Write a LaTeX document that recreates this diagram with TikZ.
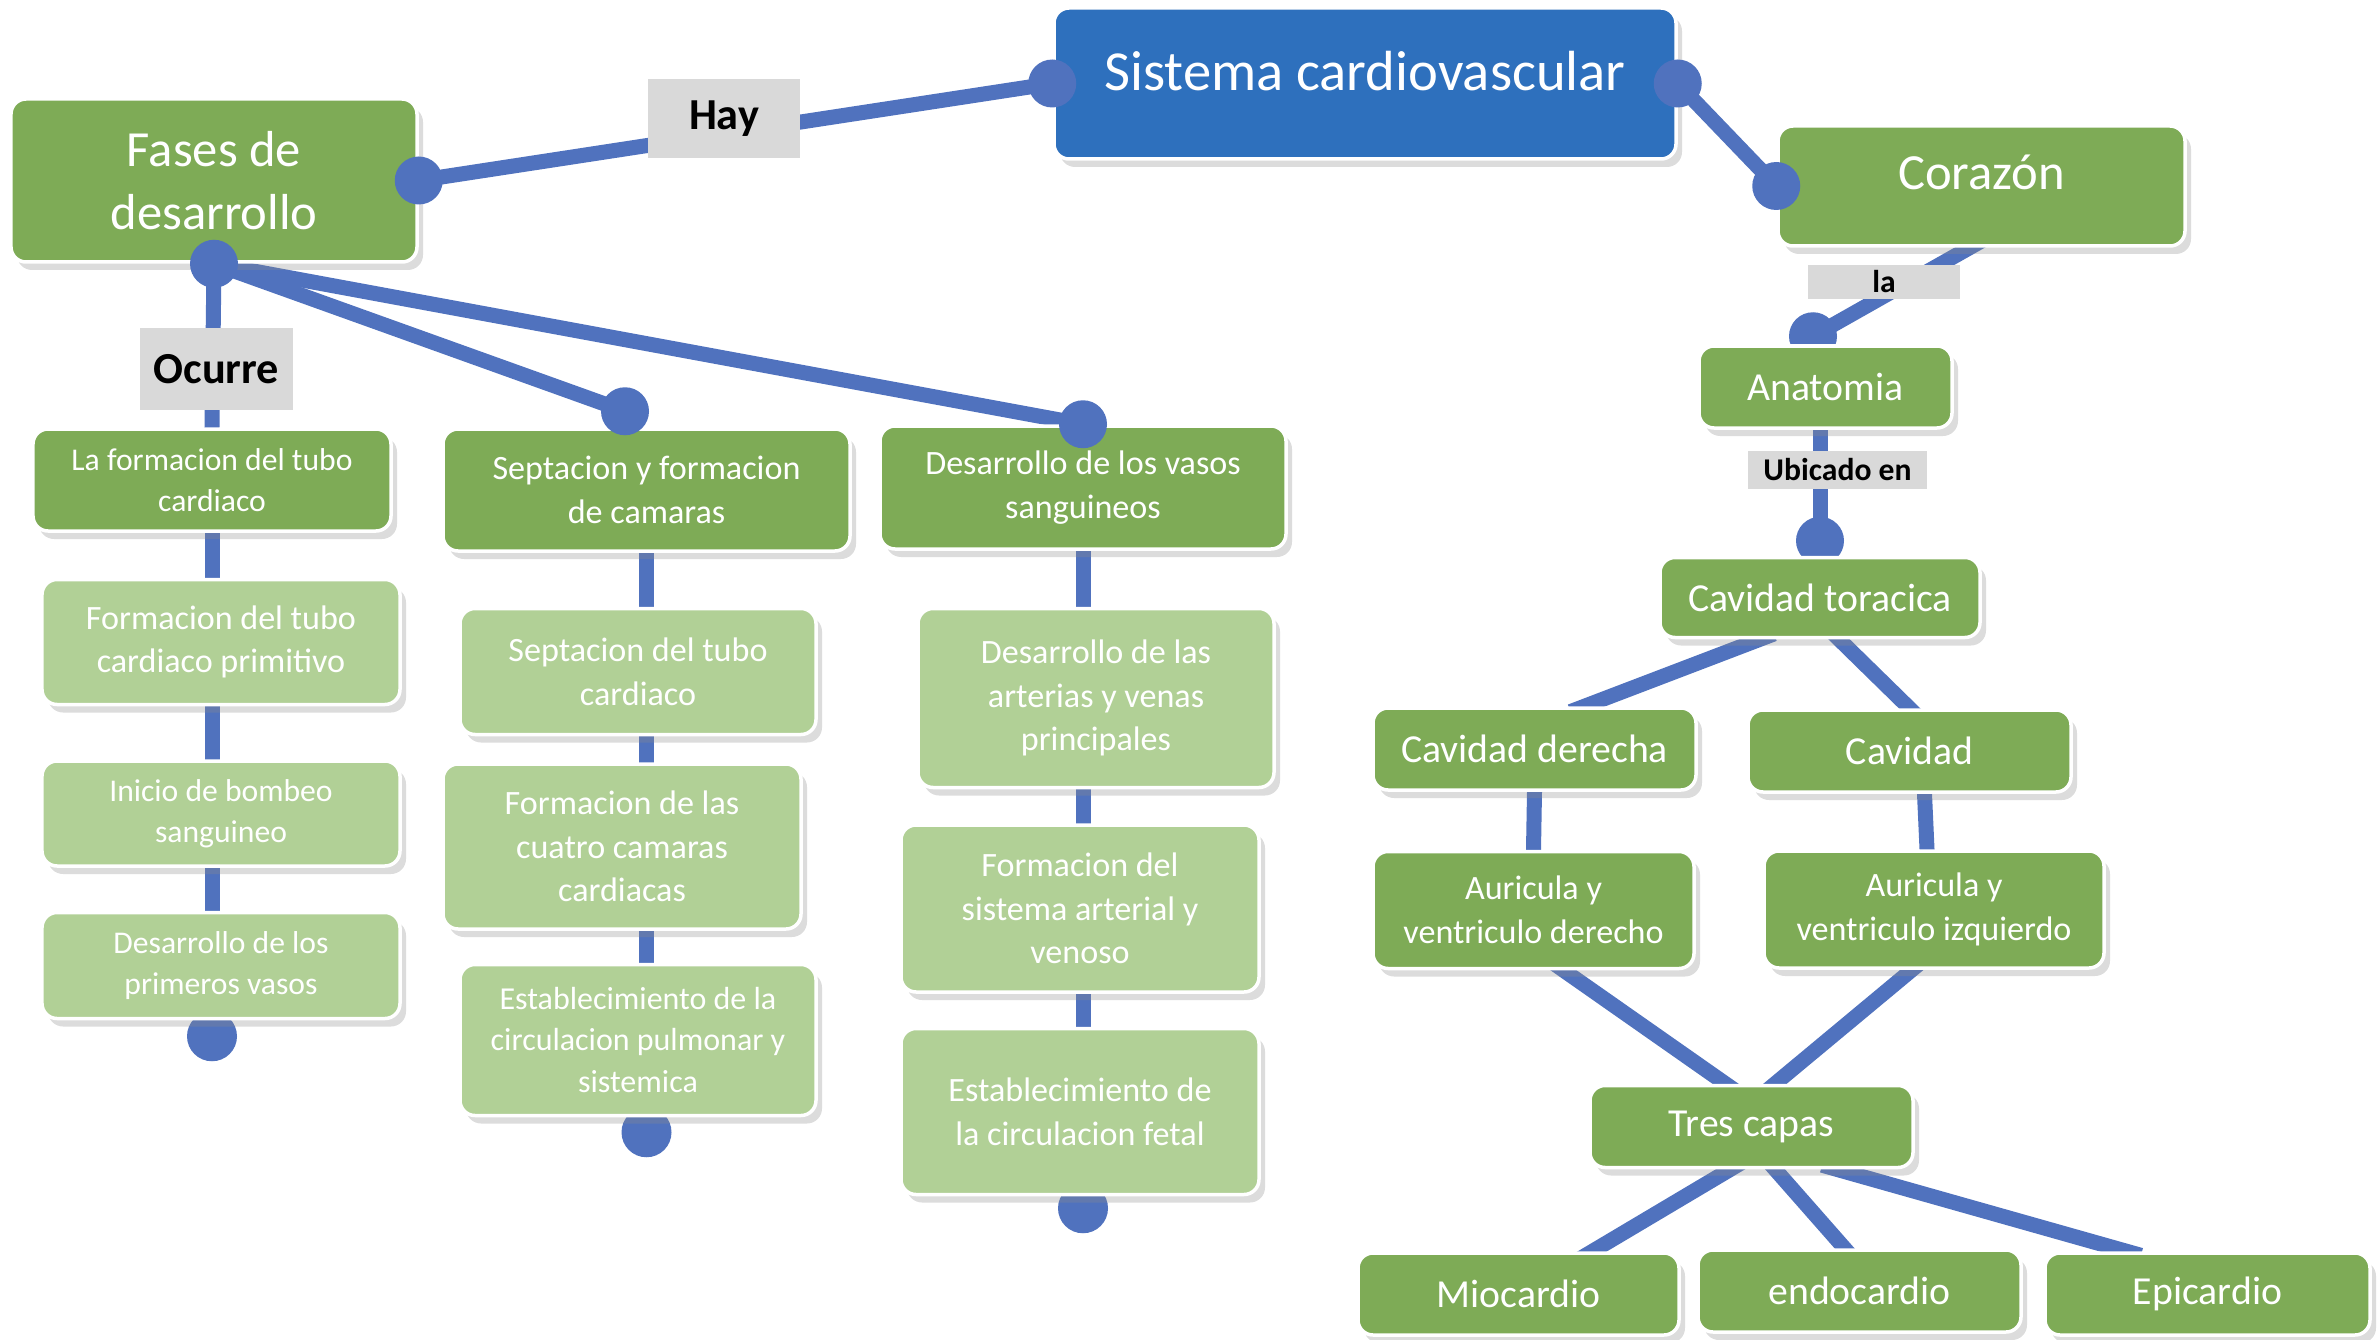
\documentclass[tikz,border=0pt]{standalone}
\usepackage{fontspec}
\setmainfont{Carlito}
\usepackage{tikz}
\usetikzlibrary{positioning,backgrounds,calc,shadows}

\definecolor{azulraiz}{RGB}{46,112,189}
\definecolor{azullinea}{RGB}{80,114,190}
\definecolor{verdeosc}{RGB}{126,171,86}
\definecolor{verdeclaro}{RGB}{177,208,150}
\definecolor{grisetiq}{RGB}{217,217,217}

\newcommand{\tamraiz}{\fontsize{16.1}{19.3}\selectfont}
\newcommand{\tamfase}{\fontsize{14.4}{18.1}\selectfont}
\newcommand{\tamnivel}{\fontsize{11.3}{13.6}\selectfont}
\newcommand{\tamcol}{\fontsize{9.7}{12.4}\selectfont}
\newcommand{\tamcolmedio}{\fontsize{9.1}{11.8}\selectfont}
\newcommand{\tamcolchico}{\fontsize{9}{11.6}\selectfont}
\newcommand{\tametiq}{\fontsize{12.6}{15}\selectfont\bfseries}
\newcommand{\tametiqchica}{\fontsize{9}{11}\selectfont\bfseries}

\tikzset{
  caja/.style={rectangle, rounded corners=1.5mm, draw=white, line width=0.35mm,
    text=white, align=center, inner sep=1mm,
    drop shadow={shadow xshift=0.6mm, shadow yshift=-0.8mm, opacity=0.3, fill=black!45}},
  raiz/.style={caja, fill=azulraiz, font=\tamraiz},
  fase/.style={caja, fill=verdeosc, font=\tamnivel},
  paso/.style={caja, fill=verdeclaro, font=\tamcol, minimum width=35.8mm},
  etiq/.style={rectangle, fill=grisetiq, text=black, font=\tametiq, inner sep=0.5mm},
  etiqchica/.style={etiq, font=\tametiqchica},
  conector/.style={draw=azullinea, line width=1.5mm, shorten <=-1.5mm, shorten >=-1.5mm},
  punto/.style={fill=azullinea},
}

\begin{document}
\begin{tikzpicture}[x=1mm, y=1mm,
    cabeza/.style={fase, font=\tamcol, minimum width=40.6mm},
    nivel/.style={fase, minimum width=32.3mm, minimum height=8.2mm},
  ]
  \useasboundingbox (0,0) rectangle (237.9,-134);
  % concepto central
  \node[raiz, minimum width=62.2mm, minimum height=15.1mm, text height=4mm, text depth=2.5mm]
    (sistema) at (136.5,-8.35) {Sistema cardiovascular};
  \node[fase, font=\tamfase, minimum width=40.6mm, minimum height=16.3mm]
    (fases) at (21.4,-18.05) {Fases de\\desarrollo};
  \node[fase, font=\tamfase, minimum width=40.7mm, minimum height=12mm, text height=4mm, text depth=3.2mm]
    (corazon) at (198.15,-18.6) {Corazón};
  % primera columna
  \node[fase, font=\tamcolchico, minimum width=35.8mm, minimum height=10.2mm]
    (tubo) at (21.2,-48) {La formacion del tubo\\cardiaco};
  \node[paso, below=4.5mm of tubo, xshift=0.9mm, minimum height=12.5mm] (primitivo) {Formacion del tubo\\cardiaco primitivo};
  \node[paso, font=\tamcolchico, below=5.3mm of primitivo, minimum height=10.5mm] (bombeo) {Inicio de bombeo\\sanguineo};
  \node[paso, font=\tamcolchico, below=4.3mm of bombeo, minimum height=10.6mm] (primvasos) {Desarrollo de los\\primeros vasos};
  % segunda columna
  \node[cabeza, minimum width=40.7mm, minimum height=12.2mm]
    (septacion) at (64.65,-49) {Septacion y formacion\\de camaras};
  \node[paso, below=5.4mm of septacion, xshift=-0.85mm, minimum width=35.6mm, minimum height=12.6mm] (septubo) {Septacion del tubo\\cardiaco};
  \node[paso, below=2.6mm of septubo, xshift=-1.6mm, minimum height=16.5mm] (camaras) {Formacion de las\\cuatro camaras\\cardiacas};
  \node[paso, font=\tamcolmedio, below=3.2mm of camaras, xshift=1.6mm, minimum width=35.6mm, minimum height=15.1mm] (pulmonar) {Establecimiento de la\\circulacion pulmonar y\\sistemica};
  % tercera columna
  \node[cabeza, minimum height=12.3mm]
    (vasos) at (108.3,-48.75) {Desarrollo de los vasos\\sanguineos};
  \node[paso, below=5.6mm of vasos, xshift=1.3mm, minimum width=35.6mm, minimum height=17.9mm] (arterias) {Desarrollo de las\\arterias y venas\\principales};
  \node[paso, below=3.4mm of arterias, xshift=-1.6mm, minimum height=16.7mm] (sisarterial) {Formacion del\\sistema arterial y\\venoso};
  \node[paso, below=3.3mm of sisarterial, minimum height=16.6mm] (fetal) {Establecimiento de\\la circulacion fetal};
  % lado del corazon
  \node[fase, minimum width=25.3mm, minimum height=8.2mm] (anatomia) at (182.55,-38.7) {Anatomia};
  \node[fase, below=12.6mm of anatomia, xshift=-0.55mm, minimum width=32mm, minimum height=8mm] (toracica) {Cavidad toracica};
  \node[nivel] (derecha) at (153.45,-74.9) {Cavidad derecha};
  \node[nivel] (cavidad) at (190.95,-75.1) {Cavidad};
  \node[fase, font=\tamcol, below=5.8mm of derecha, xshift=-0.1mm, minimum width=32.1mm, minimum height=11.7mm] (auricder) {Auricula y\\ventriculo derecho};
  \node[fase, font=\tamcol, minimum width=34mm, minimum height=11.7mm] (auricizq) at (193.4,-90.95) {Auricula y\\ventriculo izquierdo};
  \node[nivel] (capas) at (175.15,-112.65) {Tres capas};
  \node[nivel, minimum width=32.1mm] (mio) at (151.85,-129.4) {Miocardio};
  \node[nivel] (endo) at (185.95,-129.1) {endocardio};
  \node[nivel, minimum width=32.5mm] (epi) at (220.75,-129.4) {Epicardio};
  % etiquetas de enlace
  \node[etiq, minimum width=15.2mm, minimum height=7.9mm] (hay) at (72.4,-11.85) {Hay};
  \node[etiq, minimum width=15.3mm, minimum height=8.2mm] (ocurre) at (21.65,-36.9) {Ocurre};
  \node[etiqchica, minimum width=15.2mm, minimum height=3.4mm] (la) at (188.4,-28.2) {la};
  \node[etiqchica, minimum width=17.9mm, minimum height=3.8mm] (ubicado) at (183.75,-47) {Ubicado en};
  % puntos de llegada
  \coordinate (pseptacion) at ($(septacion.north)+(-2.15,1.6)$);
  \coordinate (fin1) at ($(tubo.south |- primvasos.south)+(0,-1.6)$);
  \coordinate (fin2) at ($(septacion.south |- pulmonar.south)+(0,-1.5)$);
  \coordinate (fin3) at ($(vasos.south |- fetal.south)+(0,-1.2)$);
  \coordinate (panatomia) at ($(anatomia.north)+(-1.25,0.8)$);
  \coordinate (ptoracica) at ($(toracica.north)+(0,1.5)$);
  % conectores
  \begin{scope}[on background layer]
    \draw[conector] (fases.east) -- (sistema.west);
    \draw[conector] (sistema.east) -- (corazon.west);
    \draw[conector] (fases.south) -- (tubo.north);
    \draw[conector] (fases.south) -- (pseptacion);
    \draw[conector] (fases.south) -- (vasos.north);
    \draw[conector] (tubo.south) -- (fin1);
    \draw[conector] (septacion.south) -- (fin2);
    \draw[conector] (vasos.south) -- (fin3);
    \fill[punto] (fin1) circle[radius=2.5mm];
    \fill[punto] (fin2) circle[radius=2.5mm];
    \fill[punto] (fin3) circle[radius=2.5mm];
    \draw[conector] ($(corazon.south)+(-1.2,0)$) -- (panatomia);
    \draw[conector] (toracica.north |- anatomia.south) -- (ptoracica);
    \fill[punto] (panatomia) circle[radius=2.4mm];
    \fill[punto] (ptoracica) circle[radius=2.4mm];
    \draw[conector] ($(toracica.south)+(-6,0)$) -- ($(derecha.north)+(5,0)$);
    \draw[conector] ($(toracica.south)+(1.9,0)$) -- (cavidad.north);
    \draw[conector] (derecha.south) -- (auricder.north);
    \draw[conector] ($(cavidad.south)+(1.5,0)$) -- ($(auricizq.north)+(-0.7,0)$);
    \draw[conector] ($(auricder.south)+(3,0)$) -- ($(capas.north)+(-2.6,0)$);
    \draw[conector] ($(auricizq.south)+(-2.2,0)$) -- ($(capas.north)+(2.35,0)$);
    \draw[conector] ($(capas.south)+(-2.1,0)$) -- ($(mio.north)+(7.4,0)$);
    \draw[conector] ($(capas.south)+(2.35,0)$) -- ($(endo.north)+(-1.5,0)$);
    \draw[conector] ($(capas.south)+(8.5,0)$) -- ($(epi.north)+(-8.1,0)$);
  \end{scope}
  % puntos encima de las cajas
  \fill[punto] (fases.east) circle[radius=2.4mm];
  \fill[punto] (sistema.west) circle[radius=2.4mm];
  \fill[punto] (sistema.east) circle[radius=2.4mm];
  \fill[punto] (corazon.west) circle[radius=2.4mm];
  \fill[punto] (fases.south) circle[radius=2.4mm];
  \fill[punto] (pseptacion) circle[radius=2.4mm];
  \fill[punto] (vasos.north) circle[radius=2.4mm];
\end{tikzpicture}
\end{document}
